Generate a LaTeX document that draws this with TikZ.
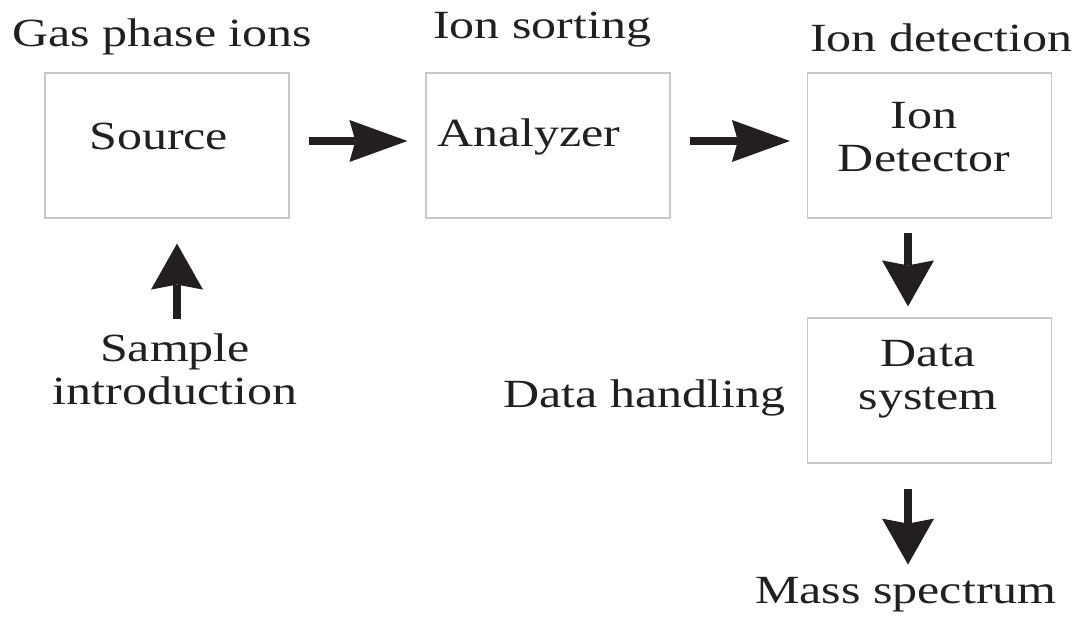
\documentclass[tikz,border=0pt]{standalone}
\usepackage{fontspec}
\setmainfont{Liberation Serif}[FakeStretch=1.25]
\usetikzlibrary{arrows.meta,calc}
\definecolor{ink}{HTML}{231F20}
\definecolor{frame}{HTML}{C8C8C8}
\begin{document}
\begin{tikzpicture}[x=1pt,y=-1pt,
  box/.style={draw=frame,line width=1.2pt,minimum width=244pt,minimum height=145pt,inner sep=0pt},
  lbl/.style={text=ink,inner sep=0pt,font=\fontsize{40}{43}\selectfont,align=center},
  harrow/.style={draw=ink,line width=8pt,-{Stealth[length=58pt,width=42pt,inset=6pt,line width=0pt]}},
  varrow/.style={draw=ink,line width=8pt,-{Stealth[length=46pt,width=52pt,inset=5pt,line width=0pt]}}]
\useasboundingbox (0,0) rectangle (1079,617);
% boxes
\node[box] (src) at (167,145.5) {};
\node[box] (ana) at (548,145.5) {};
\node[box] (idet) at (929.5,145.5) {};
\node[box] (dsys) at (929.5,390.5) {};
% labels
\node[lbl,anchor=base west] (gas) at (12,47) {Gas phase ions};
\node[lbl,anchor=base west] (sort) at (433,39) {Ion sorting};
\node[lbl,anchor=base west] (det) at (810,52) {Ion detection};
\node[lbl,anchor=base west] (srct) at (89,150) {Source};
\node[lbl,anchor=base west] (anat) at (437,147) {Analyzer};
\node[lbl,anchor=north] (iondt) at (924,102) {Ion\\Detector};
\node[lbl,anchor=north] (datat) at (928,340) {Data\\system};
\node[lbl,anchor=north] (samp) at (175,334) {Sample\\introduction};
\node[lbl,anchor=base west] (hand) at (503,407) {Data handling};
\node[lbl,anchor=base west] (mass) at (755,603) {Mass spectrum};
% arrows
\draw[harrow] ($(src.east)+(19,-4.5)$) -- ($(ana.west)+(-18,-4.5)$);
\draw[harrow] ($(ana.east)+(19,-4.5)$) -- ($(idet.west)+(-17,-4.5)$);
\draw[varrow] ($(idet.south)+(-21.5,14)$) -- ($(dsys.north)+(-21.5,-11)$);
\draw[varrow] ($(dsys.south)+(-21.5,25)$) -- ($(dsys.south)+(-21.5,101)$);
\draw[varrow] ($(samp.north)+(2,-15)$) -- ($(src.south)+(10,25)$);
\end{tikzpicture}
\end{document}
